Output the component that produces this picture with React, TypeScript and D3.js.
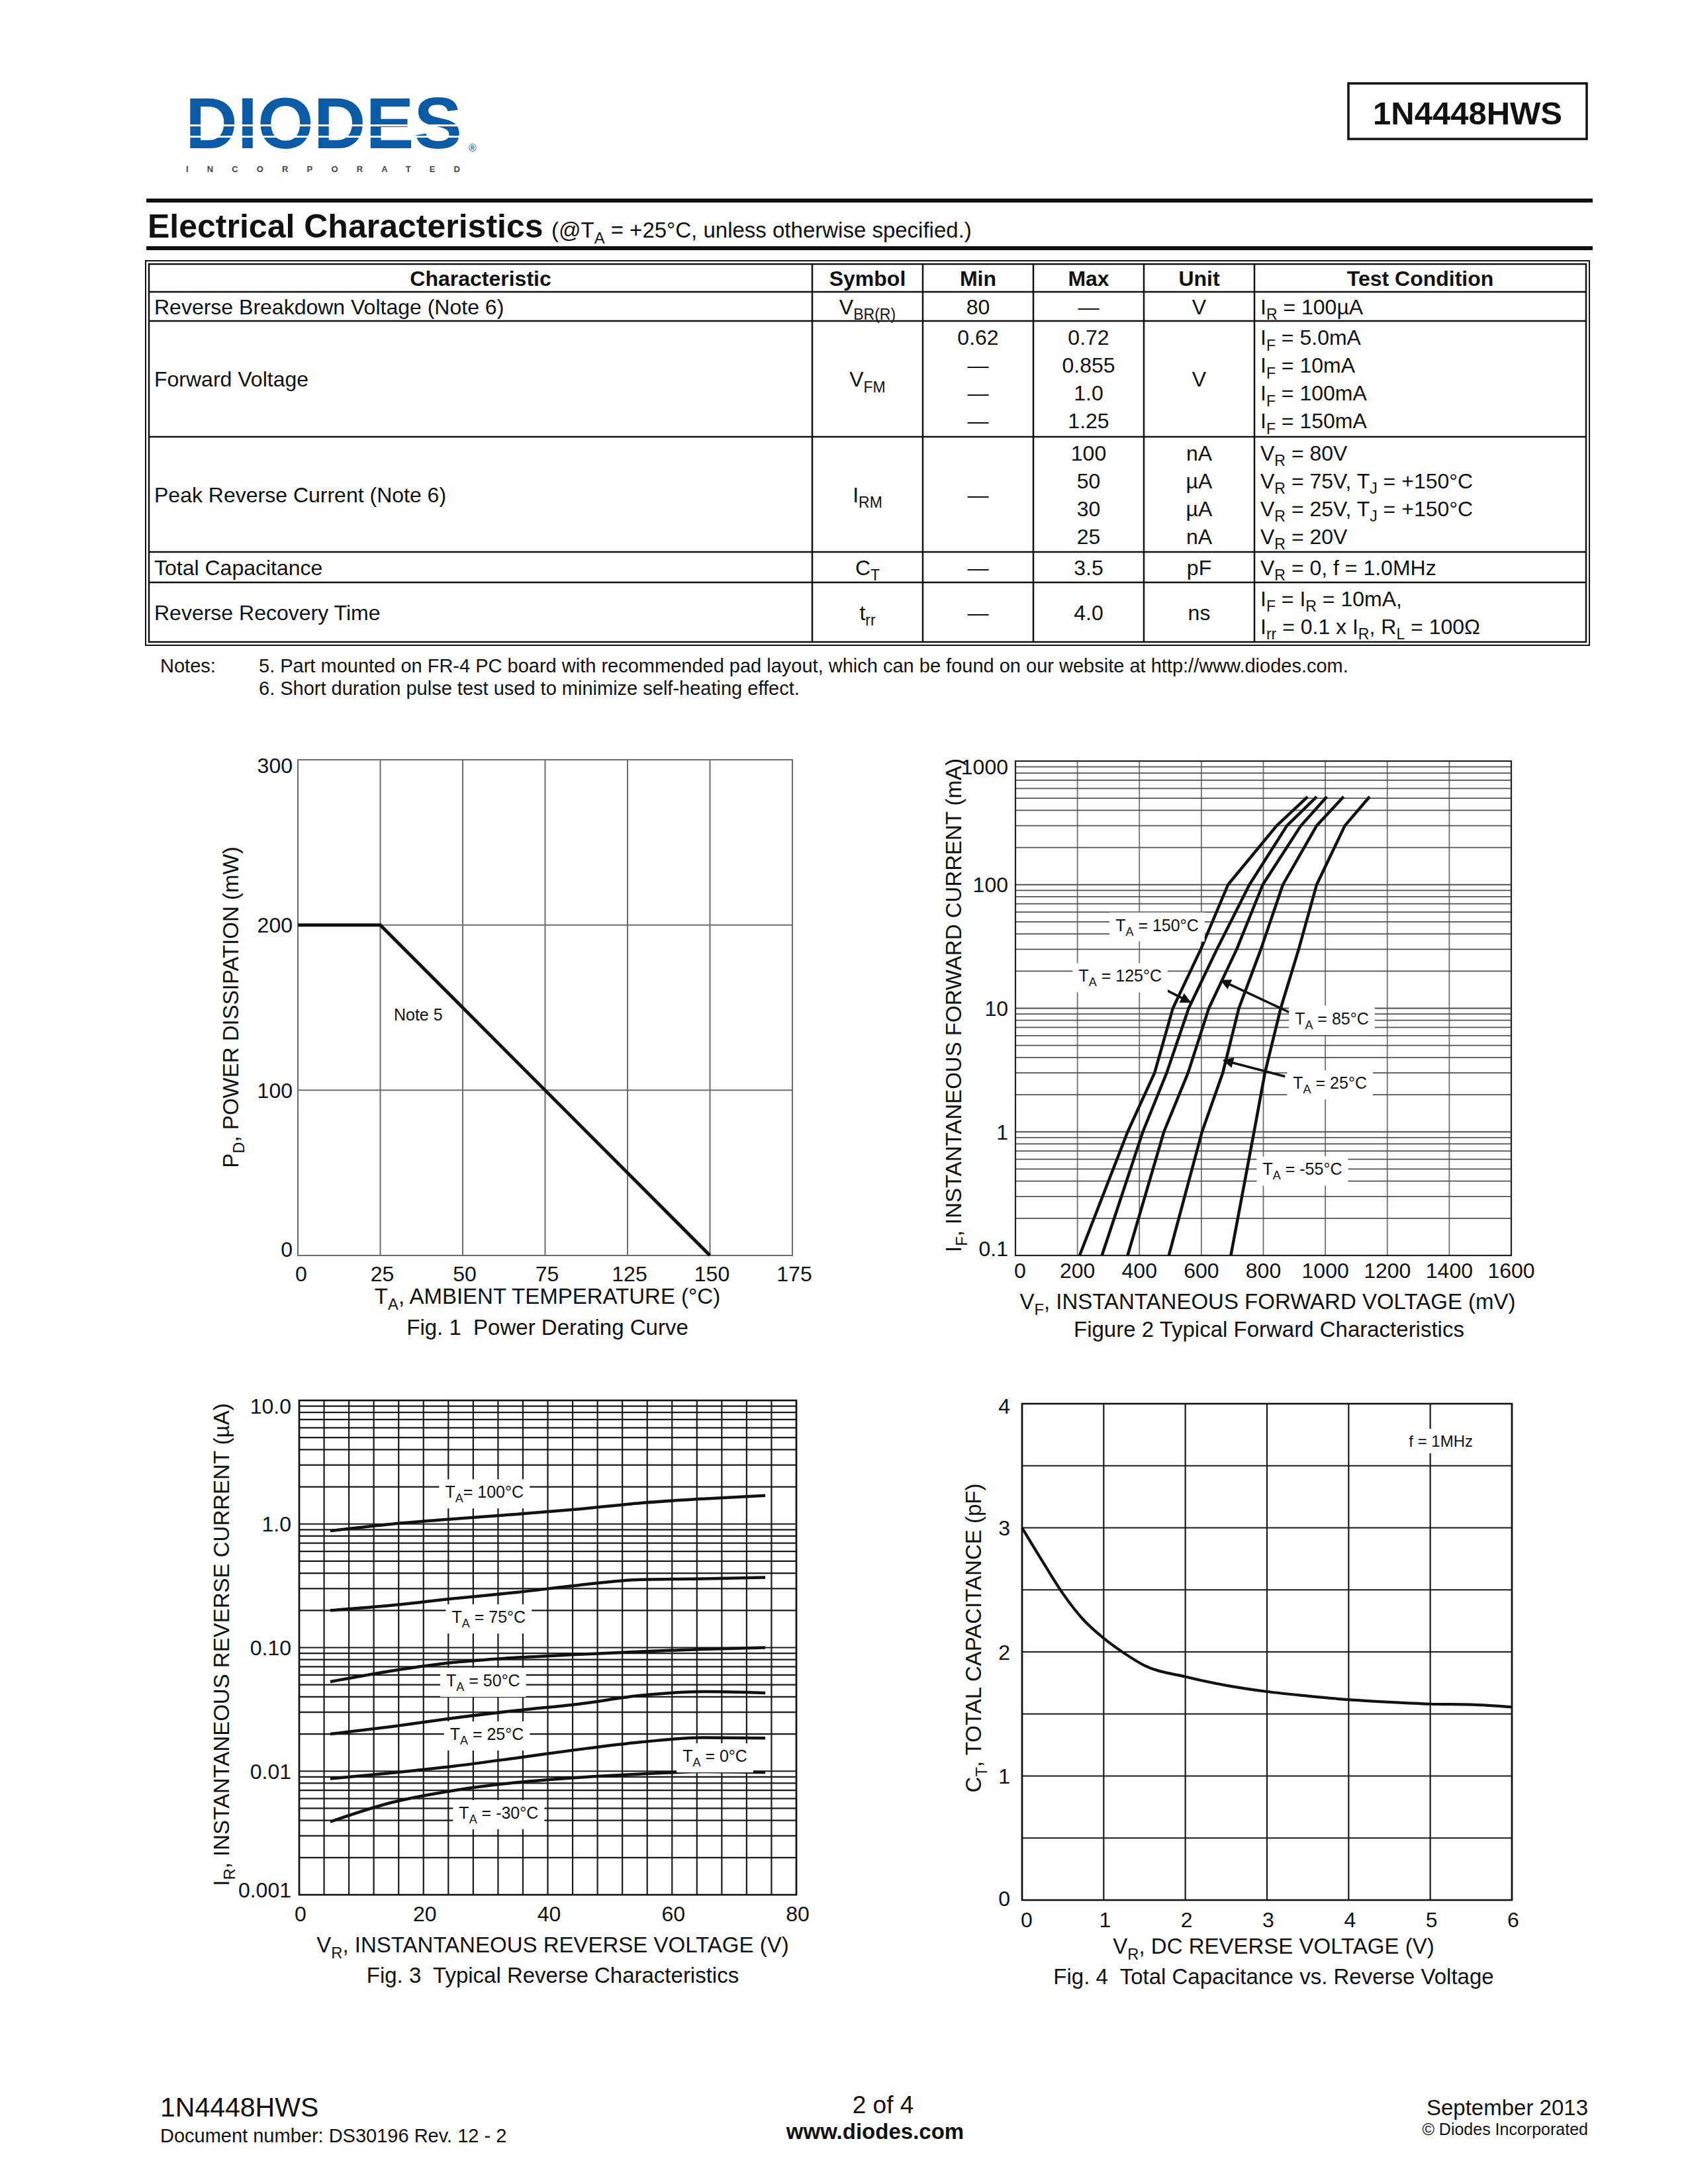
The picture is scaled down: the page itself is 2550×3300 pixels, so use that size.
import { useEffect, useRef } from 'react';
import * as d3 from 'd3';

const FONT = '"Liberation Sans", Arial, Helvetica, sans-serif';
const W = 2550;
const H = 3300;

// ---------- table ----------
const tableHeader = ['Characteristic', 'Symbol', 'Min', 'Max', 'Unit', 'Test Condition'];
const tableRows: string[][][] = [
  [['Reverse Breakdown Voltage (Note 6)'], ['V_{BR(R)}'], ['80'], ['—'], ['V'], ['I_{R} = 100µA']],
  [
    ['Forward Voltage'], ['V_{FM}'], ['0.62', '—', '—', '—'], ['0.72', '0.855', '1.0', '1.25'], ['V'],
    ['I_{F} = 5.0mA', 'I_{F} = 10mA', 'I_{F} = 100mA', 'I_{F} = 150mA'],
  ],
  [
    ['Peak Reverse Current (Note 6)'], ['I_{RM}'], ['—'], ['100', '50', '30', '25'], ['nA', 'µA', 'µA', 'nA'],
    ['V_{R} = 80V', 'V_{R} = 75V, T_{J} = +150°C', 'V_{R} = 25V, T_{J} = +150°C', 'V_{R} = 20V'],
  ],
  [['Total Capacitance'], ['C_{T}'], ['—'], ['3.5'], ['pF'], ['V_{R} = 0, f = 1.0MHz']],
  [['Reverse Recovery Time'], ['t_{rr}'], ['—'], ['4.0'], ['ns'], ['I_{F} = I_{R} = 10mA,', 'I_{rr} = 0.1 x I_{R}, R_{L} = 100Ω']],
];
const notes = [
  '5. Part mounted on FR-4 PC board with recommended pad layout, which can be found on our website at http://www.diodes.com.',
  '6. Short duration pulse test used to minimize self-heating effect.',
];

// ---------- Fig. 1 power derating ----------
const deratingTicks = [0, 25, 50, 75, 125, 150, 175];
const powerTicks = [0, 100, 200, 300];
const deratingTemp = [0, 25, 150];
const deratingPower = [200, 200, 0];

// ---------- Fig. 2 forward characteristics (mV vs mA) ----------
const fwdCurrent = [0.1, 1, 3, 10, 30, 100, 300, 515];
const fwdVolt150 = [207, 362, 449, 508, 598, 686, 843, 943];
const fwdVolt125 = [279, 411, 488, 559, 650, 755, 876, 972];
const fwdVolt85 = [362, 479, 557, 624, 714, 798, 921, 1005];
const fwdVolt25 = [495, 602, 669, 721, 792, 863, 972, 1059];
const fwdVoltM55 = [695, 770, 805, 856, 914, 972, 1063, 1143];
const fwdVoltTicks = [0, 200, 400, 600, 800, 1000, 1200, 1400, 1600];
const fwdCurrentTicks = [0.1, 1, 10, 100, 1000];
const fwdCurrentLabels = ['0.1', '1', '10', '100', '1000'];

// ---------- Fig. 3 reverse characteristics (V vs µA) ----------
const revVoltage = [5, 15, 25, 35, 45, 55, 65, 75];
const rev100 = [0.88, 1.0, 1.1, 1.2, 1.32, 1.48, 1.6, 1.7];
const rev75 = [0.2, 0.22, 0.25, 0.28, 0.32, 0.355, 0.36, 0.37];
const rev50 = [0.053, 0.065, 0.076, 0.083, 0.088, 0.093, 0.097, 0.1];
const rev25 = [0.02, 0.023, 0.027, 0.031, 0.035, 0.041, 0.044, 0.043];
const rev0 = [0.0087, 0.0097, 0.011, 0.0128, 0.015, 0.0172, 0.0187, 0.0185];
const revM30 = [0.0039, 0.0056, 0.007, 0.0081, 0.0089, 0.0095, 0.0099, 0.0098];
const revVoltTicks = [0, 20, 40, 60, 80];
const revCurrentTicks = [0.001, 0.01, 0.1, 1, 10];
const revCurrentLabels = ['0.001', '0.01', '0.10', '1.0', '10.0'];

// ---------- Fig. 4 capacitance ----------
const capVoltage = [0, 0.25, 0.5, 0.75, 1, 1.25, 1.5, 2, 2.5, 3, 3.5, 4, 4.5, 5, 5.5, 6];
const capValue = [3.0, 2.73, 2.47, 2.26, 2.11, 1.99, 1.89, 1.8, 1.73, 1.68, 1.645, 1.615, 1.595, 1.58, 1.575, 1.555];
const capVoltTicks = [0, 1, 2, 3, 4, 5, 6];
const capTicks = [0, 1, 2, 3, 4];

type Sel = d3.Selection<any, unknown, null, undefined>;

interface TextOpts {
  anchor?: string;
  weight?: string;
  fill?: string;
  transform?: string;
}

// text with _{sub} markup
function addText(parent: Sel, x: number, y: number, str: string, size: number, o: TextOpts = {}) {
  const t = parent
    .append('text')
    .attr('x', x)
    .attr('y', y)
    .attr('font-family', FONT)
    .attr('font-size', size)
    .attr('text-anchor', o.anchor ?? 'start')
    .attr('font-weight', o.weight ?? 'normal')
    .attr('fill', o.fill ?? '#111')
    .style('white-space', 'pre');
  if (o.transform) t.attr('transform', o.transform);
  let down = false;
  str
    .split(/(_\{[^}]*\})/)
    .filter(Boolean)
    .forEach((p) => {
      const m = p.match(/^_\{(.*)\}$/);
      if (m) {
        t.append('tspan').attr('font-size', size * 0.72).attr('dy', size * 0.28).text(m[1]);
        down = true;
      } else {
        const s = t.append('tspan').text(p);
        if (down) {
          s.attr('dy', -size * 0.28);
          down = false;
        }
      }
    });
  return t;
}

// annotation on a white box, centred on (x, y)
function boxedLabel(parent: Sel, x: number, y: number, str: string, size: number) {
  const g = parent.append('g');
  const r = g.append('rect').attr('fill', '#fff');
  const t = addText(g, x, y + size * 0.36, str, size, { anchor: 'middle' });
  const bb = (t.node() as SVGTextElement).getBBox();
  r.attr('x', bb.x - 9).attr('y', bb.y - 5).attr('width', bb.width + 18).attr('height', bb.height + 10);
}

function vLines(g: Sel, vals: number[], sx: (v: number) => number, T: number, B: number, color: string, w: number) {
  g.selectAll(null)
    .data(vals)
    .enter()
    .append('line')
    .attr('x1', (d) => sx(d))
    .attr('x2', (d) => sx(d))
    .attr('y1', T)
    .attr('y2', B)
    .attr('stroke', color)
    .attr('stroke-width', w);
}

function hLines(g: Sel, vals: number[], sy: (v: number) => number, L: number, R: number, color: string, w: number) {
  g.selectAll(null)
    .data(vals)
    .enter()
    .append('line')
    .attr('x1', L)
    .attr('x2', R)
    .attr('y1', (d) => sy(d))
    .attr('y2', (d) => sy(d))
    .attr('stroke', color)
    .attr('stroke-width', w);
}

function frame(g: Sel, L: number, T: number, R: number, B: number, color: string, w: number) {
  g.append('rect')
    .attr('x', L)
    .attr('y', T)
    .attr('width', R - L)
    .attr('height', B - T)
    .attr('fill', 'none')
    .attr('stroke', color)
    .attr('stroke-width', w);
}

function logGrid(lo: number, hi: number) {
  const out: number[] = [];
  for (let e = Math.round(Math.log10(lo)); e < Math.round(Math.log10(hi)); e++) {
    for (let m = 1; m < 10; m++) out.push(m * 10 ** e);
  }
  out.push(hi);
  return out;
}

function drawHeader(svg: Sel) {
  const g = svg.append('g');
  // logo
  g.append('text')
    .attr('x', 280)
    .attr('y', 224)
    .attr('font-family', FONT)
    .attr('font-weight', 'bold')
    .attr('font-size', 110)
    .attr('fill', '#0b5aa6')
    .attr('textLength', 418)
    .attr('lengthAdjust', 'spacingAndGlyphs')
    .text('DIODES');
  g.append('rect').attr('x', 278).attr('y', 188).attr('width', 426).attr('height', 3).attr('fill', '#fff');
  g.append('rect').attr('x', 278).attr('y', 205).attr('width', 426).attr('height', 3).attr('fill', '#fff');
  g.append('text')
    .attr('x', 708)
    .attr('y', 229)
    .attr('font-family', FONT)
    .attr('font-size', 16)
    .attr('fill', '#0b5aa6')
    .text('®');
  g.append('text')
    .attr('x', 281)
    .attr('y', 260)
    .attr('font-family', FONT)
    .attr('font-weight', 'bold')
    .attr('font-size', 13)
    .attr('fill', '#444')
    .attr('textLength', 414)
    .attr('lengthAdjust', 'spacing')
    .text('INCORPORATED');

  // part number box
  g.append('rect')
    .attr('x', 2037)
    .attr('y', 126)
    .attr('width', 360)
    .attr('height', 84)
    .attr('fill', '#fff')
    .attr('stroke', '#111')
    .attr('stroke-width', 3.5);
  addText(g, 2217, 188, '1N4448HWS', 49, { anchor: 'middle', weight: 'bold' });

  // rules + section title
  g.append('rect').attr('x', 221).attr('y', 300).attr('width', 2185).attr('height', 6).attr('fill', '#111');
  g.append('rect').attr('x', 221).attr('y', 372).attr('width', 2185).attr('height', 6).attr('fill', '#111');
  addText(g, 223, 359, 'Electrical Characteristics', 50, { weight: 'bold' });
  addText(g, 833, 359, '(@T_{A} = +25°C, unless otherwise specified.)', 33);
}

function drawTable(svg: Sel) {
  const g = svg.append('g');
  const colX = [225, 1227, 1394, 1561, 1728, 1895, 2396];
  const rowY = [399, 441, 485, 660, 834, 880, 970];
  const fs = 32;
  const lineGap = 42;

  g.append('rect').attr('x', 220).attr('y', 394).attr('width', 2181).attr('height', 581).attr('fill', 'none').attr('stroke', '#111').attr('stroke-width', 2);
  g.append('rect')
    .attr('x', colX[0])
    .attr('y', rowY[0])
    .attr('width', colX[6] - colX[0])
    .attr('height', rowY[6] - rowY[0])
    .attr('fill', 'none')
    .attr('stroke', '#111')
    .attr('stroke-width', 2.5);
  rowY.slice(1, -1).forEach((y) => {
    g.append('line').attr('x1', colX[0]).attr('x2', colX[6]).attr('y1', y).attr('y2', y).attr('stroke', '#111').attr('stroke-width', 2.5);
  });
  colX.slice(1, -1).forEach((x) => {
    g.append('line').attr('x1', x).attr('x2', x).attr('y1', rowY[0]).attr('y2', rowY[6]).attr('stroke', '#111').attr('stroke-width', 2.5);
  });

  const cellX = (c: number) => (c === 0 ? colX[0] + 8 : c === 5 ? colX[5] + 9 : (colX[c] + colX[c + 1]) / 2);
  const anchor = (c: number) => (c === 0 || c === 5 ? 'start' : 'middle');

  tableHeader.forEach((h, c) => {
    const cx = (colX[c] + colX[c + 1]) / 2;
    addText(g, cx, (rowY[0] + rowY[1]) / 2 + fs * 0.36, h, fs, { anchor: 'middle', weight: 'bold' });
  });

  tableRows.forEach((row, r) => {
    const mid = (rowY[r + 1] + rowY[r + 2]) / 2;
    row.forEach((lines, c) => {
      const n = lines.length;
      lines.forEach((txt, i) => {
        const cy = mid + (i - (n - 1) / 2) * lineGap;
        addText(g, cellX(c), cy + fs * 0.36, txt, fs, { anchor: anchor(c) });
      });
    });
  });

  addText(g, 242, 1016, 'Notes:', 29);
  notes.forEach((n, i) => addText(g, 391, 1016 + i * 34, n, 29));
}

function drawFig1(svg: Sel) {
  const g = svg.append('g');
  const L = 450, R = 1197, T = 1148, B = 1897;
  const x = d3
    .scaleLinear()
    .domain(deratingTicks)
    .range(deratingTicks.map((_, i) => L + (i * (R - L)) / (deratingTicks.length - 1)));
  const y = d3.scaleLinear().domain([0, 300]).range([B, T]);

  vLines(g, deratingTicks, x, T, B, '#6c6c6c', 2);
  hLines(g, powerTicks, y, L, R, '#6c6c6c', 2);
  frame(g, L, T, R, B, '#6c6c6c', 2);

  const line = d3
    .line<number>()
    .x((d) => x(d))
    .y((_, i) => y(deratingPower[i]));
  g.append('path').attr('d', line(deratingTemp)).attr('fill', 'none').attr('stroke', '#111').attr('stroke-width', 5).attr('stroke-linejoin', 'miter');

  addText(g, x(36.5), y(145.6) + 9, 'Note 5', 25, { anchor: 'middle' });

  deratingTicks.forEach((v, i) => addText(g, x(v) + (i === 0 ? 5 : 3), B + 39, String(v), 32, { anchor: 'middle' }));
  powerTicks.forEach((v, i) => {
    const shift = i === 0 ? -10 : i === powerTicks.length - 1 ? 8 : 0;
    addText(g, L - 8, y(v) + shift + 11.5, String(v), 32, { anchor: 'end' });
  });

  addText(g, 827, B + 73, 'T_{A}, AMBIENT TEMPERATURE (°C)', 33, { anchor: 'middle' });
  addText(g, 827, B + 120, 'Fig. 1  Power Derating Curve', 33, { anchor: 'middle' });
  addText(g, 0, 0, 'P_{D}, POWER DISSIPATION (mW)', 33, { anchor: 'middle', transform: `translate(${348 + 12},${1522}) rotate(-90)` });
}

function drawFig2(svg: Sel) {
  const g = svg.append('g');
  const L = 1534, R = 2283, T = 1150, B = 1897;
  const x = d3.scaleLinear().domain([0, 1600]).range([L, R]);
  const y = d3.scaleLog().domain([0.1, 1000]).range([B, T]);

  vLines(g, fwdVoltTicks, x, T, B, '#707070', 1.8);
  hLines(g, logGrid(0.1, 1000), y, L, R, '#505050', 1.8);
  frame(g, L, T, R, B, '#222', 2.2);

  const series = [fwdVolt150, fwdVolt125, fwdVolt85, fwdVolt25, fwdVoltM55];
  const line = d3
    .line<number>()
    .x((d) => x(d))
    .y((_, i) => y(fwdCurrent[i]));
  series.forEach((s) => {
    g.append('path').attr('d', line(s)).attr('fill', 'none').attr('stroke', '#111').attr('stroke-width', 4.5).attr('stroke-linejoin', 'round');
  });

  const arrows = [
    { from: [464, 15.0], to: [564, 11.2] },
    { from: [887, 9.2], to: [664, 16.8] },
    { from: [870, 2.81], to: [672, 3.79] },
  ];
  arrows.forEach((a) => {
    g.append('line')
      .attr('x1', x(a.from[0]))
      .attr('y1', y(a.from[1]))
      .attr('x2', x(a.to[0]))
      .attr('y2', y(a.to[1]))
      .attr('stroke', '#111')
      .attr('stroke-width', 3.5)
      .attr('marker-end', 'url(#arrow)');
  });

  const labels: [string, number, number][] = [
    ['T_{A} = 150°C', 457, 47.2],
    ['T_{A} = 125°C', 338, 18.3],
    ['T_{A} = 85°C', 1021, 8.3],
    ['T_{A} = 25°C', 1015, 2.49],
    ['T_{A} = -55°C', 926, 0.5],
  ];
  labels.forEach(([t, mv, ma]) => boxedLabel(g, x(mv), y(ma), t, 25));

  fwdVoltTicks.forEach((v, i) => addText(g, x(v) + (i === 0 ? 7 : 0), B + 34, String(v), 32, { anchor: 'middle' }));
  fwdCurrentTicks.forEach((v, i) => {
    const shift = i === 0 ? -11 : i === fwdCurrentTicks.length - 1 ? 8 : 0;
    addText(g, L - 11, y(v) + shift + 11.5, fwdCurrentLabels[i], 32, { anchor: 'end' });
  });

  addText(g, 1915, B + 81, 'V_{F}, INSTANTANEOUS FORWARD VOLTAGE (mV)', 33, { anchor: 'middle' });
  addText(g, 1917, B + 123, 'Figure 2 Typical Forward Characteristics', 33, { anchor: 'middle' });
  addText(g, 0, 0, 'I_{F}, INSTANTANEOUS FORWARD CURRENT (mA)', 33, {
    anchor: 'middle',
    transform: `translate(${1440 + 12},${1519}) rotate(-90)`,
  });
}

function drawFig3(svg: Sel) {
  const g = svg.append('g');
  const L = 452, R = 1203, T = 2116, B = 2863;
  const x = d3.scaleLinear().domain([0, 80]).range([L, R]);
  const y = d3.scaleLog().domain([0.001, 10]).range([B, T]);

  vLines(g, d3.range(0, 81, 4), x, T, B, '#1a1a1a', 2.2);
  hLines(g, logGrid(0.001, 10), y, L, R, '#1a1a1a', 2.2);
  frame(g, L, T, R, B, '#111', 2.6);

  const series = [rev100, rev75, rev50, rev25, rev0, revM30];
  const line = d3
    .line<number>()
    .x((_, i) => x(revVoltage[i]))
    .y((d) => y(d))
    .curve(d3.curveMonotoneX);
  series.forEach((s) => {
    g.append('path').attr('d', line(s)).attr('fill', 'none').attr('stroke', '#111').attr('stroke-width', 4.5);
  });

  const labels: [string, number, number][] = [
    ['T_{A}= 100°C', 29.8, 1.82],
    ['T_{A} = 75°C', 30.5, 0.177],
    ['T_{A} = 50°C', 29.6, 0.0543],
    ['T_{A} = 25°C', 30.2, 0.02],
    ['T_{A} = 0°C', 66.9, 0.0133],
    ['T_{A} = -30°C', 32.1, 0.00461],
  ];
  labels.forEach(([t, v, a]) => boxedLabel(g, x(v), y(a), t, 25));

  revVoltTicks.forEach((v) => addText(g, x(v) + 2, B + 40, String(v), 32, { anchor: 'middle' }));
  revCurrentTicks.forEach((v, i) => {
    const shift = i === 0 ? -8 : i === revCurrentTicks.length - 1 ? 8 : 0;
    addText(g, L - 12, y(v) + shift + 11.5, revCurrentLabels[i], 32, { anchor: 'end' });
  });

  addText(g, 835, B + 87, 'V_{R}, INSTANTANEOUS REVERSE VOLTAGE (V)', 33, { anchor: 'middle' });
  addText(g, 835, B + 133, 'Fig. 3  Typical Reverse Characteristics', 33, { anchor: 'middle' });
  addText(g, 0, 0, 'I_{R}, INSTANTANEOUS REVERSE CURRENT (µA)', 33, {
    anchor: 'middle',
    transform: `translate(${334 + 12},${2485}) rotate(-90)`,
  });
}

function drawFig4(svg: Sel) {
  const g = svg.append('g');
  const L = 1544, R = 2284, T = 2121, B = 2871;
  const x = d3.scaleLinear().domain([0, 6]).range([L, R]);
  const y = d3.scaleLinear().domain([0, 4]).range([B, T]);

  vLines(g, capVoltTicks, x, T, B, '#1a1a1a', 2.2);
  hLines(g, d3.range(0, 4.01, 0.5), y, L, R, '#1a1a1a', 2.2);
  frame(g, L, T, R, B, '#111', 2.6);

  const line = d3
    .line<number>()
    .x((d) => x(d))
    .y((_, i) => y(capValue[i]))
    .curve(d3.curveMonotoneX);
  g.append('path').attr('d', line(capVoltage)).attr('fill', 'none').attr('stroke', '#111').attr('stroke-width', 4.2);

  boxedLabel(g, x(5.13), y(3.7), 'f = 1MHz', 24);

  capVoltTicks.forEach((v, i) => addText(g, x(v) + (i === 0 ? 7 : 2), B + 41, String(v), 32, { anchor: 'middle' }));
  capTicks.forEach((v, i) => {
    const shift = i === 0 ? -3 : i === capTicks.length - 1 ? 3 : 0;
    addText(g, L - 18, y(v) + shift + 11.5, String(v), 32, { anchor: 'end' });
  });

  addText(g, 1924, B + 81, 'V_{R}, DC REVERSE VOLTAGE (V)', 33, { anchor: 'middle' });
  addText(g, 1924, B + 127, 'Fig. 4  Total Capacitance vs. Reverse Voltage', 33, { anchor: 'middle' });
  addText(g, 0, 0, 'C_{T}, TOTAL CAPACITANCE (pF)', 33, {
    anchor: 'middle',
    transform: `translate(${1470 + 12},${2475}) rotate(-90)`,
  });
}

function drawFooter(svg: Sel) {
  const g = svg.append('g');
  addText(g, 242, 3198, '1N4448HWS', 41);
  addText(g, 242, 3237, 'Document number: DS30196 Rev. 12 - 2', 29);
  addText(g, 1334, 3193, '2 of 4', 37, { anchor: 'middle' });
  addText(g, 1322, 3232, 'www.diodes.com', 33, { anchor: 'middle', weight: 'bold' });
  addText(g, 2399, 3196, 'September 2013', 33, { anchor: 'end' });
  addText(g, 2399, 3226, '© Diodes Incorporated', 25, { anchor: 'end' });
}

export default function App() {
  const svgRef = useRef<SVGSVGElement>(null);

  useEffect(() => {
    if (!svgRef.current) return;
    const svg = d3.select(svgRef.current) as unknown as Sel;
    svg.selectAll('*').remove();

    svg.append('rect').attr('width', W).attr('height', H).attr('fill', '#fff');

    const defs = svg.append('defs');
    defs
      .append('marker')
      .attr('id', 'arrow')
      .attr('viewBox', '0 0 10 10')
      .attr('refX', 9)
      .attr('refY', 5)
      .attr('markerWidth', 24)
      .attr('markerHeight', 16)
      .attr('markerUnits', 'userSpaceOnUse')
      .attr('orient', 'auto')
      .append('path')
      .attr('d', 'M0,0 L10,5 L0,10 Z')
      .attr('fill', '#111');

    drawHeader(svg);
    drawTable(svg);
    drawFig1(svg);
    drawFig2(svg);
    drawFig3(svg);
    drawFig4(svg);
    drawFooter(svg);
  }, []);

  return (
    <svg
      ref={svgRef}
      width={W}
      height={H}
      viewBox={`0 0 ${W} ${H}`}
      style={{ position: 'absolute', left: 0, top: 0, display: 'block' }}
    />
  );
}
